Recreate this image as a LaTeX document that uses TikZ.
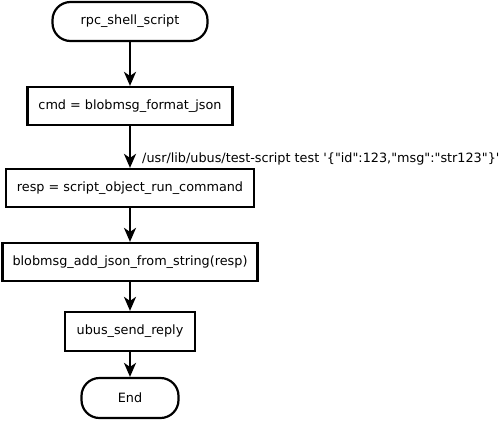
\documentclass[tikz,border=0pt]{standalone}
\usepackage{fontspec}
\setmainfont{DejaVu Sans}
\usetikzlibrary{arrows.meta,positioning}
\tikzset{
    flow/.style={line width=2.2pt, -{Stealth[length=14pt,width=12pt,inset=4pt]}},
    procbox/.style={draw, line width=2.2pt, minimum height=38pt, inner sep=0pt},
    termbox/.style={draw, line width=2.2pt, rounded corners=18pt, minimum height=39pt, inner sep=0pt}
}

\begin{document}
\begin{tikzpicture}[x=1pt,y=-1pt,font=\fontsize{12.8}{15}\selectfont]

    \useasboundingbox (0,0) rectangle (501,421);

    % Steps of the call.
    \node[termbox, minimum width=155pt] (start) at (130,21.5) {rpc\_shell\_script};
    \node[procbox, minimum width=205pt] (cmd) at (130,106) {cmd = blobmsg\_format\_json};
    \node[procbox, minimum width=248pt] (resp) at (130,188) {resp = script\_object\_run\_command};
    \node[procbox, minimum width=255pt] (addjson) at (130,262) {blobmsg\_add\_json\_from\_string(resp)};
    \node[procbox, minimum width=130pt, minimum height=39pt] (reply) at (130,331.5) {ubus\_send\_reply};
    \node[termbox, minimum width=97pt, minimum height=40pt] (finish) at (130,398) {End};

    % Connectors.
    \draw[flow] (start) -- (cmd);
    \draw[flow] (cmd) -- (resp);
    \draw[flow] (resp) -- (addjson);
    \draw[flow] (addjson) -- (reply);
    \draw[flow] (reply) -- (finish);

    % Command passed to the script.
    \node[anchor=west, inner sep=0pt] (cmdline) at (142,159)
        {/usr/lib/ubus/test-script test \textquotesingle\{\textquotedbl id\textquotedbl:123,\textquotedbl msg\textquotedbl:\textquotedbl str123\textquotedbl\}\textquotesingle};

\end{tikzpicture}
\end{document}
